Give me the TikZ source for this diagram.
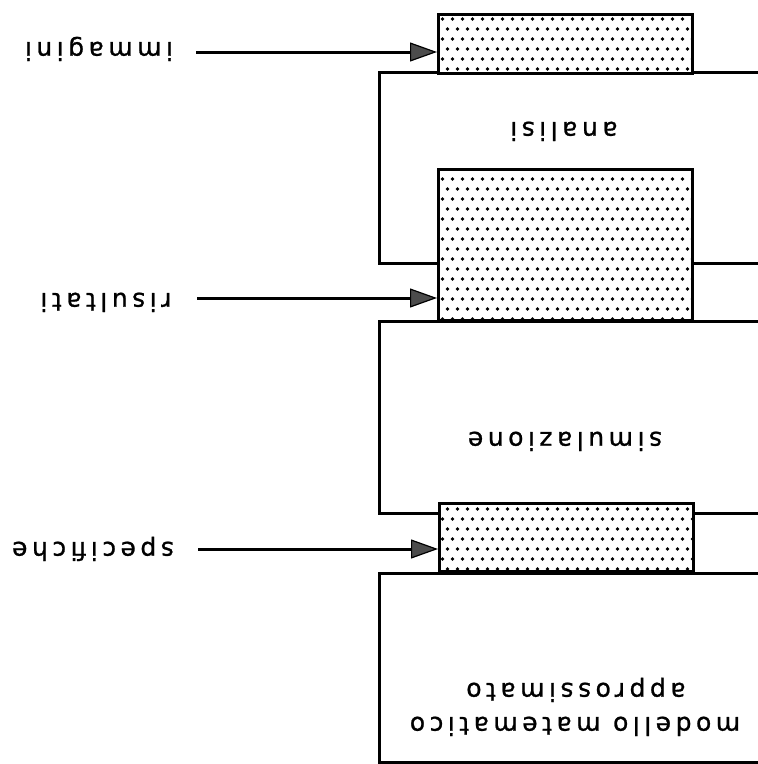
\documentclass[tikz,border=0pt]{standalone}
\usepackage{fontspec}
\newfontfamily\lblfont{DejaVu Sans}[LetterSpace=18,FakeBold=1]
\usetikzlibrary{arrows.meta,patterns}

% staggered dot fill for the data stores
\pgfdeclarepatternformonly{stipple}{\pgfqpoint{-1pt}{-1pt}}{\pgfqpoint{11pt}{21pt}}{\pgfqpoint{10pt}{20pt}}{%
  \pgfpathcircle{\pgfqpoint{2.5pt}{5pt}}{1.8pt}%
  \pgfpathcircle{\pgfqpoint{7.5pt}{15pt}}{1.8pt}%
  \pgfusepath{fill}}

\begin{document}
\begin{tikzpicture}[x=1pt,y=-1pt,
  procline/.style={line width=3pt},
  store/.style={draw, line width=3pt, preaction={fill=white}, pattern=stipple,
    inner sep=0pt, anchor=north west, minimum width=254pt},
  lbl/.style={font={\lblfont\fontsize{25pt}{30pt}\selectfont}, rotate=180,
    anchor=base, inner sep=0pt},
  flow/.style={line width=3pt,
    -{Triangle[length=27pt,width=19pt,fill=black!70,line width=1.2pt]}}
]
\useasboundingbox (0,0) rectangle (758,764);

% process boxes, open towards the right edge
\draw[procline] (758,72) -- (379,72) -- (379,263) -- (758,263);
\draw[procline] (758,321) -- (379,321) -- (379,513) -- (758,513);
\draw[procline] (758,573) -- (379,573) -- (379,762) -- (758,762);

% data stores
\node[store, minimum height=59pt]  (imm) at (437,13)  {};
\node[store, minimum height=151pt] (ris) at (437,168) {};
\node[store, minimum height=68pt]  (spe) at (438,502) {};

% process labels
\node[lbl] (tAna) at (564,122) {analisi};
\node[lbl] (tSim) at (565,432) {simulazione};
\node[lbl] (tMod) at (575,717) {modello matematico};
\node[lbl] (tApp) at (576,683) {approssimato};

% incoming flows
\node[lbl] (tImm) at (99,42)  {immagini};
\node[lbl] (tRis) at (106,293) {risultati};
\node[lbl] (tSpe) at (93,542) {specifiche};

\coordinate (s1) at (196,52);
\coordinate (s2) at (197,298);
\coordinate (s3) at (198,549);
\draw[flow] (s1) -- (s1 -| imm.west);
\draw[flow] (s2) -- (s2 -| ris.west);
\draw[flow] (s3) -- (s3 -| spe.west);
\end{tikzpicture}
\end{document}
